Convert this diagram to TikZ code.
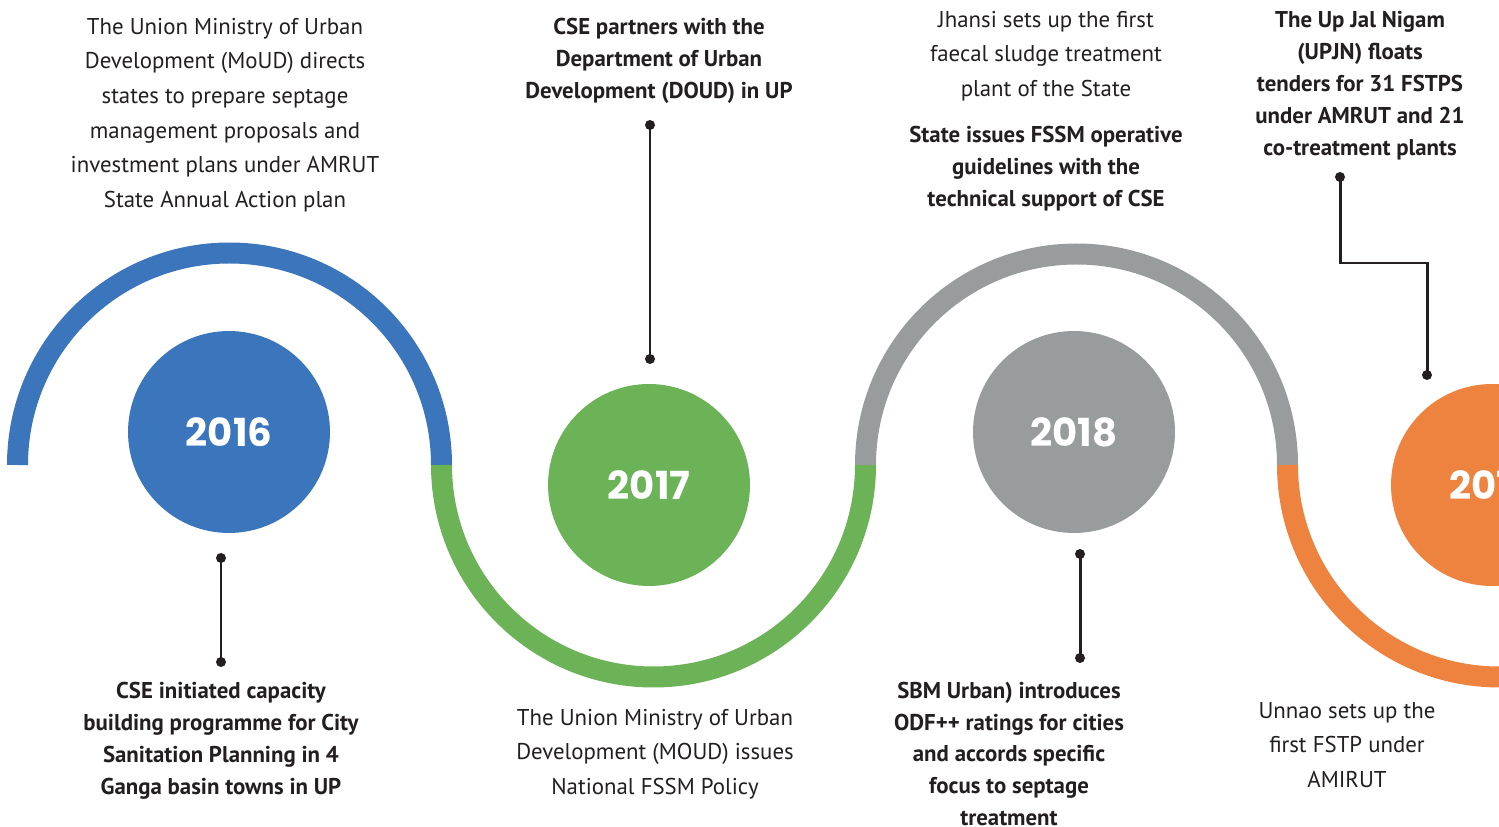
\documentclass[tikz,border=0pt]{standalone}
\usepackage{fontspec}
\setmainfont{PT Sans}
\newfontfamily\yearfont{Poppins}
\usetikzlibrary{positioning}
\definecolor{cseblue}{RGB}{59, 117, 187}
\definecolor{csegreen}{RGB}{107, 179, 86}
\definecolor{csegray}{RGB}{153, 156, 156}
\definecolor{cseorange}{RGB}{238, 131, 64}
\definecolor{csetext}{RGB}{35, 31, 32}

\tikzset{
  wave/.style={line width=0.42cm},
  yearcircle/.style={circle, minimum size=4.04cm, inner sep=0pt, text=white,
                     font=\yearfont\bfseries\fontsize{22}{26}\selectfont},
  plaintxt/.style={align=center, text=csetext, inner sep=0pt,
                   font=\fontsize{13}{19.7}\selectfont},
  boldtxt/.style={align=center, text=csetext, inner sep=0pt,
                  font=\bfseries\fontsize{13}{18.2}\selectfont},
  leader/.style={draw=csetext, line width=1.7pt},
}

\begin{document}
\begin{tikzpicture}[x=0.02cm, y=-0.02cm]
                    \clip (0,0) rectangle (1499,827);
                    \fill[white] (0,0) rectangle (1499,827);
                    % the wave
                    \draw[wave, cseblue] (17.5,465) arc (180:360:212);
                    \draw[wave, csegreen] (441.5,465) arc (180:0:212);
                    \draw[wave, csegray] (865.5,465) arc (180:360:211);
                    \draw[wave, cseorange] (1287.5,465) arc (180:0:212);
                    % years
                    \node[yearcircle, fill=cseblue] (y2016) at (229,432) {2016};
                    \node[yearcircle, fill=csegreen] (y2017) at (649,485) {2017};
                    \node[yearcircle, fill=csegray] (y2018) at (1074,432) {2018};
                    \node[yearcircle, fill=cseorange] (y2019) at (1492,485) {2019};
                    % texts
                    \node[plaintxt] (t2016up) at (225,115) {The Union Ministry of Urban\\Development (MoUD) directs\\states to prepare septage\\management proposals and\\investment plans under AMRUT\\State Annual Action plan};
                    \node[boldtxt] (t2016dn) at (221,741) {CSE initiated capacity\\building programme for City\\Sanitation Planning in 4\\Ganga basin towns in UP};
                    \node[boldtxt] (t2017up) at (659,61) {CSE partners with the\\Department of Urban\\Development (DOUD) in UP};
                    \node[plaintxt] (t2017dn) at (655,754) {The Union Ministry of Urban\\Development (MOUD) issues\\National FSSM Policy};
                    \node[plaintxt] (t2018a) at (1046,56) {Jhansi sets up the first\\faecal sludge treatment\\plant of the State};
                    \node[boldtxt, below=0.5cm of t2018a] (t2018b) {State issues FSSM operative\\guidelines with the\\technical support of CSE};
                    \node[boldtxt] (t2018dn) at (1009,754) {SBM Urban) introduces\\ODF++ ratings for cities\\and accords specific\\focus to septage\\treatment};
                    \node[boldtxt] (t2019up) at (1360,86) {The Up Jal Nigam\\(UPJN) floats\\tenders for 31 FSTPS\\under AMRUT and 21\\co-treatment plants};
                    \node[plaintxt] (t2019dn) at (1347,745) {Unnao sets up the\\first FSTP under\\AMIRUT};
                    % leaders
                    \coordinate (a2016) at (221,558);
                    \coordinate (b2016) at (221,662);
                    \coordinate (a2017) at (650,125);
                    \coordinate (b2017) at (650,359);
                    \coordinate (a2018) at (1080,554);
                    \coordinate (b2018) at (1080,658);
                    \coordinate (a2019) at (1340,177);
                    \coordinate (b2019) at (1427,375);
                    \draw[leader] (a2016) -- (b2016);
                    \draw[leader] (a2017) -- (b2017);
                    \draw[leader] (a2018) -- (b2018);
                    \draw[leader] (a2019) -- (1340,263) -| (b2019);
                    \foreach \p in {a2016,b2016,a2017,b2017,a2018,b2018,a2019,b2019}
                      \fill[csetext] (\p) circle (5);
                \end{tikzpicture}
\end{document}
